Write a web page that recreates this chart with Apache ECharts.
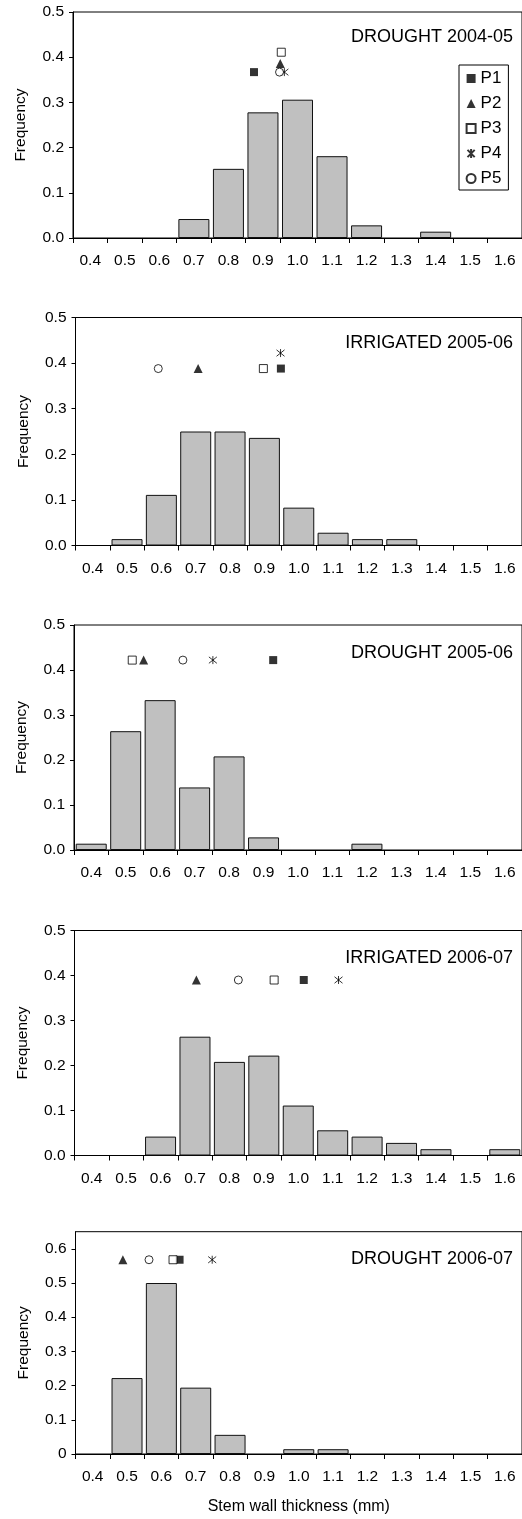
<!DOCTYPE html>
<html>
<head>
<meta charset="utf-8">
<script src="https://cdn.jsdelivr.net/npm/echarts@6/dist/echarts.min.js"></script>
<style>
  html, body { margin: 0; padding: 0; background: #fff; }
  #chart { width: 522px; height: 1519px; }
</style>
</head>
<body>
<div id="chart"></div>
<script>
// bins of stem wall thickness (mm)
const bins = ['0.4', '0.5', '0.6', '0.7', '0.8', '0.9', '1.0', '1.1', '1.2', '1.3', '1.4', '1.5', '1.6'];
const panelNames = ['DROUGHT 2004-05', 'IRRIGATED 2005-06', 'DROUGHT 2005-06', 'IRRIGATED 2006-07', 'DROUGHT 2006-07'];

const freqDrought0405 = [0, 0, 0, 0.042, 0.153, 0.278, 0.306, 0.181, 0.028, 0, 0.014, 0, 0];
const freqIrrigated0506 = [0, 0.014, 0.111, 0.25, 0.25, 0.236, 0.083, 0.028, 0.014, 0.014, 0, 0, 0];
const freqDrought0506 = [0.014, 0.264, 0.333, 0.139, 0.208, 0.028, 0, 0, 0.014, 0, 0, 0, 0];
const freqIrrigated0607 = [0, 0, 0.042, 0.264, 0.208, 0.222, 0.111, 0.056, 0.042, 0.028, 0.014, 0, 0.014];
const freqDrought0607 = [0, 0.222, 0.5, 0.194, 0.056, 0, 0.014, 0.014, 0, 0, 0, 0, 0];

const yMax = [0.5, 0.5, 0.5, 0.5, 0.65];
const yTicksLast = [0, 0.1, 0.2, 0.3, 0.4, 0.5, 0.6];

// plant means: one [thickness, marker height] per panel
const plantP1 = [[0.874, 0.367], [0.948, 0.388], [0.928, 0.422], [1.016, 0.39], [0.653, 0.568]];
const plantP2 = [[0.95, 0.386], [0.707, 0.388], [0.552, 0.422], [0.704, 0.39], [0.488, 0.568]];
const plantP3 = [[0.953, 0.411], [0.897, 0.388], [0.519, 0.422], [0.93, 0.39], [0.634, 0.568]];
const plantP4 = [[0.962, 0.367], [0.947, 0.422], [0.753, 0.422], [1.117, 0.39], [0.748, 0.568]];
const plantP5 = [[0.948, 0.367], [0.591, 0.388], [0.666, 0.422], [0.826, 0.39], [0.564, 0.568]];

const freqs = [freqDrought0405, freqIrrigated0506, freqDrought0506, freqIrrigated0607, freqDrought0607];
const plants = [plantP1, plantP2, plantP3, plantP4, plantP5];
const plantNames = ['P1', 'P2', 'P3', 'P4', 'P5'];

const FONT = 'Liberation Sans, Arial, Helvetica, sans-serif';
const boxes = [
  { left: 73, top: 12, height: 226 },
  { left: 75.5, top: 317.5, height: 228 },
  { left: 74, top: 625, height: 225 },
  { left: 74.5, top: 930.5, height: 225 },
  { left: 75.5, top: 1231.7, height: 222.3 }
];
const titleTops = [28, 333.8, 644.2, 948.8, 1249.8];

const asterisk = 'path://M1,1L9,9M1,9L9,1M5,0L5,10';
const markerStyles = [
  { symbol: 'rect', symbolSize: 8, itemStyle: { color: '#000' } },
  { symbol: 'triangle', symbolSize: 9, itemStyle: { color: '#000' } },
  { symbol: 'rect', symbolSize: 8, itemStyle: { color: '#fff', borderColor: '#000', borderWidth: 1 } },
  { symbol: asterisk, symbolSize: 8, itemStyle: { color: 'none', borderColor: '#000', borderWidth: 1 } },
  { symbol: 'circle', symbolSize: 8, itemStyle: { color: '#fff', borderColor: '#000', borderWidth: 1 } }
];

const grid = [], xAxis = [], yAxis = [], series = [], title = [];

boxes.forEach((b, i) => {
  grid.push({
    left: b.left, top: b.top, height: b.height, width: 450,
    show: true, borderColor: '#000', borderWidth: 1
  });
  const last = i === boxes.length - 1;
  xAxis.push({
    type: 'category', gridIndex: i, data: bins, boundaryGap: true,
    axisLine: { show: true, lineStyle: { color: '#000', width: 1 } },
    axisTick: { show: true, length: 5, interval: 0, alignWithLabel: false, lineStyle: { color: '#000', width: 1 } },
    axisLabel: { interval: 0, margin: 15, color: '#000', fontSize: 15.5, fontFamily: FONT },
    name: last ? 'Stem wall thickness (mm)' : '',
    nameLocation: 'middle', nameGap: 45,
    nameTextStyle: { color: '#000', fontSize: 16, fontFamily: FONT }
  });
  // hidden value axis so the plant means sit at their thickness
  xAxis.push({ type: 'value', gridIndex: i, min: 0.35, max: 1.65, show: false });
  yAxis.push({
    type: 'value', gridIndex: i, min: 0, max: yMax[i], interval: 0.1,
    splitLine: { show: false },
    axisLine: { show: true, lineStyle: { color: '#000', width: 1 } },
    axisTick: Object.assign({ show: true, length: 4, lineStyle: { color: '#000' } },
      last ? { customValues: yTicksLast } : {}),
    axisLabel: Object.assign({
      margin: 9, color: '#000', fontSize: 15.5, fontFamily: FONT,
      formatter: v => last ? String(+v.toFixed(1)) : v.toFixed(1)
    }, last ? { customValues: yTicksLast } : {}),
    name: 'Frequency', nameLocation: 'middle', nameGap: 44,
    nameTextStyle: { color: '#000', fontSize: 15.5, fontFamily: FONT }
  });
  title.push({
    text: panelNames[i], right: 9, top: titleTops[i], padding: 0,
    textStyle: { color: '#000', fontSize: 18, fontWeight: 'normal', fontFamily: FONT }
  });
  series.push({
    type: 'bar', xAxisIndex: i * 2, yAxisIndex: i, barWidth: 31,
    // empty bins draw nothing, as in the original
    data: freqs[i].map(v => v > 0 ? v : { value: v, itemStyle: { borderWidth: 0, opacity: 0 } }),
    itemStyle: { color: '#c0c0c0', borderColor: '#111', borderWidth: 1 },
    silent: true
  });
  plants.forEach((p, k) => {
    series.push(Object.assign({
      type: 'scatter', name: plantNames[k], xAxisIndex: i * 2 + 1, yAxisIndex: i,
      data: [p[i]], z: 5, silent: true
    }, markerStyles[k]));
  });
});

const chart = echarts.init(document.getElementById('chart'), null, { renderer: 'canvas' });
chart.setOption({
  animation: false,
  backgroundColor: '#fff',
  title: title,
  legend: {
    data: plantNames, orient: 'vertical', left: 459, top: 65,
    padding: [5, 7, 3, 6], itemGap: 8, itemWidth: 9, itemHeight: 9,
    borderColor: '#000', borderWidth: 1, backgroundColor: '#fff', borderRadius: 0,
    selectedMode: false,
    textStyle: { color: '#000', fontSize: 17, fontFamily: FONT }
  },
  grid: grid,
  xAxis: xAxis,
  yAxis: yAxis,
  series: series
});
</script>
</body>
</html>
